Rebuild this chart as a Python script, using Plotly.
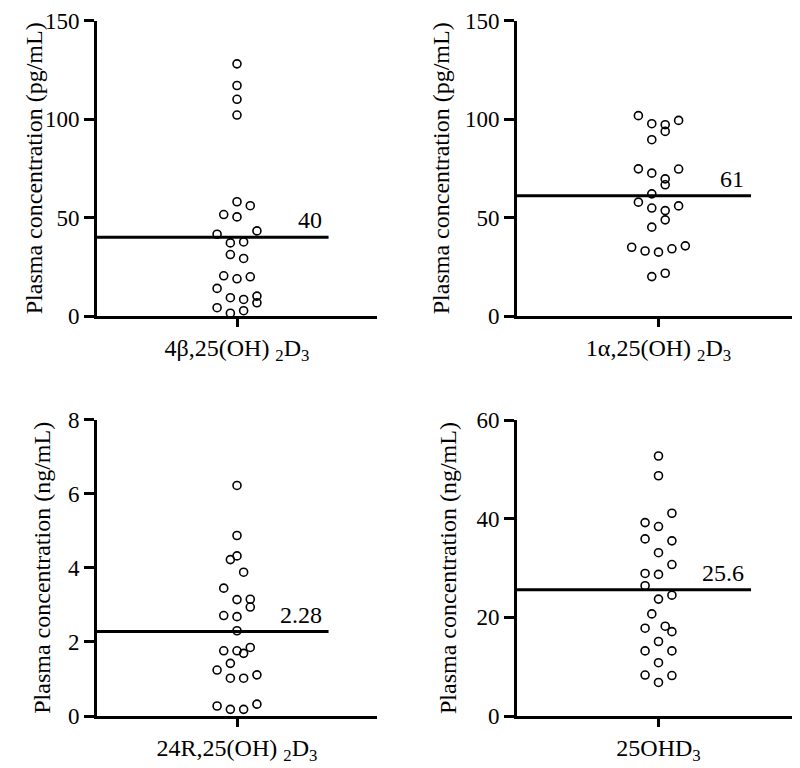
import plotly.graph_objects as go

# ---------------- data ----------------
categories = [
    "4β,25(OH) <sub>2</sub>D<sub>3</sub>",
    "1α,25(OH) <sub>2</sub>D<sub>3</sub>",
    "24R,25(OH) <sub>2</sub>D<sub>3</sub>",
    "25OHD<sub>3</sub>",
]
y_titles = [
    "Plasma concentration (pg/mL)",
    "Plasma concentration (pg/mL)",
    "Plasma concentration (ng/mL)",
    "Plasma concentration (ng/mL)",
]

# 4β,25(OH)2D3 (pg/mL)
p1_values = [128, 117, 110, 102, 58, 56, 51.5, 50.3, 41.5, 43.2, 37.1, 37.6, 31.2, 29.2,
             20.4, 18.9, 19.9, 14.0, 9.3, 8.4, 10.1, 6.7, 4.2, 1.4, 2.7]
p1_column = [0, 0, 0, 0, 0, 2, -2, 0, -3, 3, -1, 1, -1, 1,
             -2, 0, 2, -3, -1, 1, 3, 3, -3, -1, 1]

# 1α,25(OH)2D3 (pg/mL)
p2_values = [101.7, 97.6, 97.1, 99.3, 93.7, 89.5, 74.7, 72.5, 74.6, 69.6, 66.6, 62.0, 57.8,
             54.8, 53.5, 55.9, 48.8, 45.1, 34.9, 33.0, 32.4, 34.1, 35.6, 20.0, 21.7]
p2_column = [-3, -1, 1, 3, 1, -1, -3, -1, 3, 1, 1, -1, -3,
             -1, 1, 3, 1, -1, -4, -2, 0, 2, 4, -1, 1]

# 24R,25(OH)2D3 (ng/mL)
p3_values = [6.22, 4.87, 4.32, 4.22, 3.88, 3.45, 3.14, 3.15, 2.94, 2.71, 2.68, 2.30, 1.76,
             1.76, 1.69, 1.85, 1.42, 1.24, 1.02, 1.02, 1.11, 0.27, 0.18, 0.18, 0.32]
p3_column = [0, 0, 0, -1, 1, -2, 0, 2, 2, -2, 0, 0, -2,
             0, 1, 2, -1, -3, -1, 1, 3, -3, -1, 1, 3]

# 25OHD3 (ng/mL)
p4_values = [52.7, 48.7, 41.1, 39.2, 38.4, 35.9, 35.5, 33.1, 30.7, 28.9, 28.7, 26.4, 24.5,
             23.7, 20.7, 17.8, 18.2, 17.1, 15.1, 13.2, 13.2, 10.8, 8.3, 6.8, 8.2]
p4_column = [0, 0, 2, -2, 0, -2, 2, 0, 2, -2, 0, -2, 2,
             0, -1, -2, 1, 2, 0, -2, 2, 0, -2, 0, 2]

means = [40, 61, 2.28, 25.6]
mean_labels = ["40", "61", "2.28", "25.6"]

y_ranges = [[0, 150], [0, 150], [0, 8], [0, 60]]
y_ticks = [[0, 50, 100, 150], [0, 50, 100, 150], [0, 2, 4, 6, 8], [0, 20, 40, 60]]

values = [p1_values, p2_values, p3_values, p4_values]
columns = [p1_column, p2_column, p3_column, p4_column]

# ---------------- layout geometry ----------------
# the page body has an 8 px margin, so the figure is drawn 8 px smaller
OFF = 8
W, H = 800 - OFF, 768 - OFF
FONT = "Liberation Serif"


def fx(px):
    return (px - OFF) / W


def fy(py):
    return 1 - (py - OFF) / H


x_doms = [[fx(97), fx(377)], [fx(517), fx(800)], [fx(97), fx(377)], [fx(517), fx(800)]]
y_doms = [[fy(316), fy(20.5)], [fy(316), fy(20.5)],
          [fy(716), fy(419.5)], [fy(716), fy(420)]]
title_x = [fx(34), fx(441), fx(42), fx(448)]
X_LEFT, X_RIGHT = -21.1, 21.1
MEAN_END = 13.8

fig = go.Figure()
for i in range(4):
    xa = "x" if i == 0 else f"x{i+1}"
    ya = "y" if i == 0 else f"y{i+1}"
    fig.add_trace(go.Scatter(
        x=[X_LEFT, MEAN_END], y=[means[i], means[i]], mode="lines",
        line=dict(color="black", width=3), xaxis=xa, yaxis=ya,
        hoverinfo="skip", cliponaxis=False))
    fig.add_trace(go.Scatter(
        x=columns[i], y=values[i], mode="markers",
        marker=dict(symbol="circle-open", size=8, color="black",
                    line=dict(color="black", width=1.6)),
        xaxis=xa, yaxis=ya, cliponaxis=False))

layout = dict(width=W, height=H,
              margin=dict(l=0, r=0, t=0, b=0, pad=0, autoexpand=False),
              paper_bgcolor="white", plot_bgcolor="white", showlegend=False,
              font=dict(family=FONT, color="black", size=23))
annotations = []
for i in range(4):
    xk = "xaxis" if i == 0 else f"xaxis{i+1}"
    yk = "yaxis" if i == 0 else f"yaxis{i+1}"
    xa = "x" if i == 0 else f"x{i+1}"
    ya = "y" if i == 0 else f"y{i+1}"
    layout[xk] = dict(domain=list(x_doms[i]), range=[X_LEFT, X_RIGHT], autorange=False,
                      automargin=False, anchor=ya, showgrid=False,
                      zeroline=False, showline=True, linecolor="black", linewidth=3,
                      ticks="outside", ticklen=8, tickwidth=2.5, tickcolor="black",
                      tickmode="array", tickvals=[0], ticktext=[categories[i]],
                      tickfont=dict(family=FONT, size=24, color="black"))
    layout[yk] = dict(domain=list(y_doms[i]), range=list(y_ranges[i]), autorange=False,
                      automargin=False, anchor=xa, showgrid=False,
                      zeroline=False, showline=True, linecolor="black", linewidth=3,
                      ticks="outside", ticklen=10, tickwidth=2.5, tickcolor="black",
                      tickmode="array", tickvals=y_ticks[i],
                      tickfont=dict(family=FONT, size=23, color="black"))
    annotations.append(dict(
        text=y_titles[i], textangle=-90, xref="paper", yref="paper",
        x=title_x[i], y=(y_doms[i][0] + y_doms[i][1]) / 2,
        xanchor="center", yanchor="middle", showarrow=False,
        font=dict(family=FONT, size=24, color="black")))
    annotations.append(dict(
        text=mean_labels[i], xref=xa, yref=ya, x=MEAN_END, y=means[i],
        xanchor="right", yanchor="bottom", showarrow=False, xshift=-5, yshift=2,
        font=dict(family=FONT, size=24, color="black")))
layout["annotations"] = annotations
fig.update_layout(**layout)

fig.write_html("out.html")
